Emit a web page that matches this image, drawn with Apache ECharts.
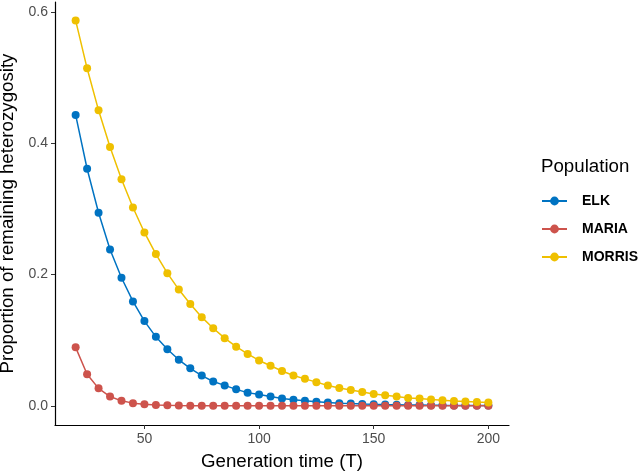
<!DOCTYPE html>
<html>
<head>
<meta charset="utf-8">
<script src="https://cdn.jsdelivr.net/npm/echarts@6/dist/echarts.min.js"></script>
<style>
  html, body { margin: 0; padding: 0; background: #fff; }
  #chart { width: 640px; height: 473px; }
</style>
</head>
<body>
<div id="chart"></div>
<script>
var generations = [20, 25, 30, 35, 40, 45, 50, 55, 60, 65, 70, 75, 80, 85, 90, 95, 100, 105, 110, 115, 120, 125, 130, 135, 140, 145, 150, 155, 160, 165, 170, 175, 180, 185, 190, 195, 200];

var elk = [0.443, 0.361, 0.294, 0.238, 0.195, 0.159, 0.129, 0.105, 0.086, 0.070, 0.057, 0.046, 0.037, 0.031, 0.025, 0.020, 0.017, 0.014, 0.011, 0.009, 0.0075, 0.006, 0.005, 0.004, 0.0033, 0.0027, 0.0022, 0.0018, 0.0015, 0.0012, 0.001, 0.0008, 0.0006, 0.0005, 0.0004, 0.0003, 0.0003];
var maria = [0.089, 0.048, 0.0265, 0.014, 0.0075, 0.004, 0.0022, 0.0012, 0.0007, 0.0004, 0.0002, 0.0001, 0.0001, 0, 0, 0, 0, 0, 0, 0, 0, 0, 0, 0, 0, 0, 0, 0, 0, 0, 0, 0, 0, 0, 0, 0, 0];
var morris = [0.587, 0.514, 0.450, 0.394, 0.345, 0.302, 0.264, 0.231, 0.202, 0.177, 0.155, 0.135, 0.118, 0.103, 0.090, 0.079, 0.069, 0.061, 0.053, 0.046, 0.041, 0.036, 0.031, 0.027, 0.024, 0.021, 0.018, 0.016, 0.014, 0.012, 0.011, 0.0095, 0.0083, 0.0073, 0.0064, 0.0056, 0.0049];

var xTicks = [50, 100, 150, 200];
var yTicks = [0, 0.2, 0.4, 0.6];

var populations = ['ELK', 'MARIA', 'MORRIS'];
var colors = ['#0073C2', '#CD534C', '#EFC000'];

function pairs(values) {
  return generations.map(function (g, i) {
    return [g, values[i]];
  });
}

var font = 'Liberation Sans, Arial, Helvetica, sans-serif';

var chart = echarts.init(document.getElementById('chart'), null, { renderer: 'canvas' });

var option = {
  animation: false,
  color: colors,
  textStyle: { fontFamily: font },
  title: {
    text: 'Population',
    left: 541,
    top: 157,
    padding: 0,
    textStyle: { fontFamily: font, fontSize: 18.7, fontWeight: 'normal', color: '#000' }
  },
  legend: {
    orient: 'vertical',
    left: 541,
    top: 194,
    padding: 0,
    itemWidth: 25,
    itemHeight: 11,
    itemGap: 14,
    data: populations,
    textStyle: { fontFamily: font, fontSize: 14, fontWeight: 'bold', color: '#000', padding: [0, 0, 0, 10] }
  },
  grid: {
    left: 55,
    right: 131,
    top: 2,
    bottom: 48,
    outerBoundsMode: 'none',
    containLabel: false
  },
  xAxis: {
    type: 'value',
    min: 11,
    max: 209,
    name: 'Generation time (T)',
    nameLocation: 'middle',
    nameGap: 27,
    nameTextStyle: { fontFamily: font, fontSize: 18.7, color: '#000' },
    axisLine: { show: true, onZero: false, lineStyle: { color: '#000', width: 1.2 } },
    axisTick: { show: true, length: 4, lineStyle: { color: '#333' }, customValues: xTicks },
    axisLabel: { fontFamily: font, fontSize: 14, color: '#4d4d4d', margin: 7, customValues: xTicks },
    splitLine: { show: false }
  },
  yAxis: {
    type: 'value',
    min: -0.0293,
    max: 0.615,
    name: 'Proportion of remaining heterozygosity',
    nameLocation: 'middle',
    nameGap: 36,
    nameTextStyle: { fontFamily: font, fontSize: 18.7, color: '#000' },
    axisLine: { show: true, onZero: false, lineStyle: { color: '#000', width: 1.2 } },
    axisTick: { show: true, length: 4, lineStyle: { color: '#333' }, customValues: yTicks },
    axisLabel: {
      fontFamily: font, fontSize: 14, color: '#4d4d4d', margin: 7,
      customValues: yTicks,
      formatter: function (v) { return v.toFixed(1); }
    },
    splitLine: { show: false }
  },
  series: [
    { name: 'ELK', data: pairs(elk) },
    { name: 'MARIA', data: pairs(maria) },
    { name: 'MORRIS', data: pairs(morris) }
  ].map(function (s, i) {
    return {
      name: s.name,
      type: 'line',
      data: s.data,
      symbol: 'circle',
      symbolSize: 8,
      showSymbol: true,
      lineStyle: { width: 1.5, color: colors[i] },
      itemStyle: { color: colors[i] }
    };
  })
};

chart.setOption(option);
</script>
</body>
</html>
